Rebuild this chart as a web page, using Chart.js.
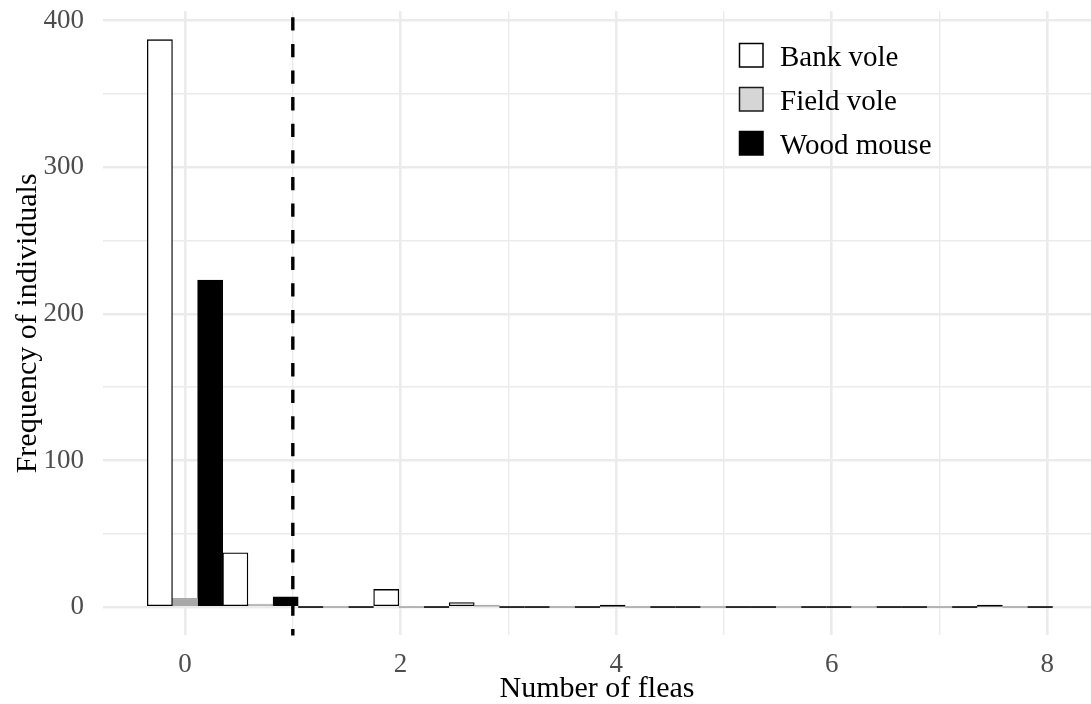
<!DOCTYPE html>
<html>
<head>
<meta charset="utf-8">
<script src="https://cdn.jsdelivr.net/npm/chart.js@4/dist/chart.umd.min.js"></script>
<style>
html, body { margin: 0; padding: 0; background: #ffffff; }
canvas { display: block; }
</style>
</head>
<body>
<canvas id="chart" width="1091" height="704"></canvas>
<script>
// Flea counts per host species, binned by number of fleas
const binCenters = [0, 0.7, 1.4, 2.1, 2.8, 3.5, 4.2, 4.9, 5.6, 6.3, 7.0, 7.7];
const bankVole   = [387, 37, 0, 12, 3, 0, 1, 0, 0, 0, 0, 1];
const fieldVole  = [6, 2, 0, 0, 1, 0, 0, 0, 0, 0, 0, 0];
const woodMouse  = [223, 7, 0, 0, 0, 0, 0, 0, 0, 0, 0, 0];
const speciesNames = ['Bank vole', 'Field vole', 'Wood mouse'];
const xTickValues = [0, 2, 4, 6, 8];
const yTickValues = [0, 100, 200, 300, 400];
const fleaThreshold = 1;

const SERIF = '"Liberation Serif", "Times New Roman", serif';
const GRID = '#ebebeb';

// fill / outline for each species (bars and legend keys)
const barStyles = [
  { fill: '#ffffff', line: '#000000' },
  { fill: '#a8a8a8', line: '#a8a8a8' },
  { fill: '#000000', line: '#000000' }
];
const keyStyles = [
  { fill: '#ffffff', line: '#000000' },
  { fill: '#d6d6d6', line: '#1a1a1a' },
  { fill: '#000000', line: '#000000' }
];

function withMinor(major) {
  const out = [];
  for (let i = 0; i < major.length; i++) {
    out.push(major[i]);
    if (i < major.length - 1) out.push((major[i] + major[i + 1]) / 2);
  }
  return out;
}

function points(values) {
  return binCenters.map((c, i) => ({ x: c, y: values[i] }));
}

const seriesValues = [bankVole, fieldVole, woodMouse];
const datasets = seriesValues.map((vals, i) => ({
  label: speciesNames[i],
  data: points(vals),
  backgroundColor: barStyles[i].fill,
  borderColor: barStyles[i].line,
  borderWidth: 1.3,
  barPercentage: 1,
  categoryPercentage: 1,
  borderSkipped: false
}));

// ggplot-like outline for empty bins: a short segment on the baseline
const emptyBinPlugin = {
  id: 'emptyBins',
  afterDatasetsDraw(chart) {
    const ctx = chart.ctx;
    chart.data.datasets.forEach((ds, di) => {
      const meta = chart.getDatasetMeta(di);
      meta.data.forEach((bar) => {
        const p = bar.getProps(['x', 'y', 'base', 'width'], true);
        if (Math.abs(p.base - p.y) < 1) {
          ctx.save();
          ctx.strokeStyle = ds.borderColor;
          ctx.lineWidth = 1.6;
          ctx.beginPath();
          ctx.moveTo(p.x - p.width / 2, p.base);
          ctx.lineTo(p.x + p.width / 2, p.base);
          ctx.stroke();
          ctx.restore();
        }
      });
    });
  }
};

// dashed reference line at the threshold
const thresholdPlugin = {
  id: 'threshold',
  afterDatasetsDraw(chart) {
    const { ctx, chartArea, scales } = chart;
    const px = scales.x.getPixelForValue(fleaThreshold);
    ctx.save();
    ctx.strokeStyle = '#000000';
    ctx.lineWidth = 3.4;
    ctx.setLineDash([13.3, 13.3]);
    ctx.lineDashOffset = 20.6;
    ctx.beginPath();
    ctx.moveTo(px, chartArea.top);
    ctx.lineTo(px, chartArea.bottom);
    ctx.stroke();
    ctx.restore();
  }
};

// legend keys inside the panel, top right
const keyPlugin = {
  id: 'keys',
  afterDraw(chart) {
    const ctx = chart.ctx;
    const left = 739.5, top = 43.5, size = 23.5, step = 44;
    ctx.save();
    chart.data.datasets.forEach((ds, i) => {
      const y = top + i * step;
      ctx.fillStyle = keyStyles[i].fill;
      ctx.fillRect(left, y, size, size);
      ctx.strokeStyle = keyStyles[i].line;
      ctx.lineWidth = 1.5;
      ctx.strokeRect(left, y, size, size);
      ctx.fillStyle = '#000000';
      ctx.font = '29px ' + SERIF;
      ctx.textBaseline = 'alphabetic';
      ctx.textAlign = 'left';
      ctx.fillText(ds.label, 780, y + 22.5);
    });
    ctx.restore();
  }
};

new Chart(document.getElementById('chart'), {
  type: 'bar',
  data: { datasets },
  options: {
    responsive: false,
    animation: false,
    layout: { padding: { top: 11.3, right: 0, bottom: 0, left: 0 } },
    plugins: {
      legend: { display: false },
      tooltip: { enabled: false }
    },
    scales: {
      x: {
        type: 'linear',
        min: -0.761,
        max: 8.405,
        offset: false,
        afterBuildTicks(scale) {
          scale.ticks = withMinor(xTickValues).map(v => ({ value: v }));
        },
        afterFit(scale) {
          scale.height = 68.6;
          scale.paddingLeft = 0;
          scale.paddingRight = 0;
        },
        ticks: {
          autoSkip: false,
          maxRotation: 0,
          padding: 13,
          color: '#4d4d4d',
          font: { family: SERIF, size: 27 },
          callback: (v) => xTickValues.includes(v) ? String(v) : ''
        },
        grid: {
          offset: false,
          drawTicks: false,
          color: GRID,
          lineWidth: (c) => (c.tick && xTickValues.includes(c.tick.value)) ? 2.6 : 1.4
        },
        border: { display: false },
        title: {
          display: true,
          text: 'Number of fleas',
          color: '#000000',
          font: { family: SERIF, size: 30 },
          padding: { top: 0, bottom: -3 }
        }
      },
      y: {
        type: 'linear',
        min: -19.35,
        max: 406.35,
        afterBuildTicks(scale) {
          scale.ticks = withMinor(yTickValues).map(v => ({ value: v }));
        },
        afterFit(scale) {
          scale.width = 103;
          scale.paddingTop = 0;
          scale.paddingBottom = 0;
        },
        ticks: {
          autoSkip: false,
          padding: 19,
          color: '#4d4d4d',
          font: { family: SERIF, size: 27 },
          callback: (v) => yTickValues.includes(v) ? String(v) : ''
        },
        grid: {
          drawTicks: false,
          color: GRID,
          lineWidth: (c) => (c.tick && yTickValues.includes(c.tick.value)) ? 2.6 : 1.4
        },
        border: { display: false },
        title: {
          display: true,
          text: 'Frequency of individuals',
          color: '#000000',
          font: { family: SERIF, size: 30 },
          padding: { top: 10, bottom: 0 }
        }
      }
    }
  },
  plugins: [emptyBinPlugin, thresholdPlugin, keyPlugin]
});
</script>
</body>
</html>
